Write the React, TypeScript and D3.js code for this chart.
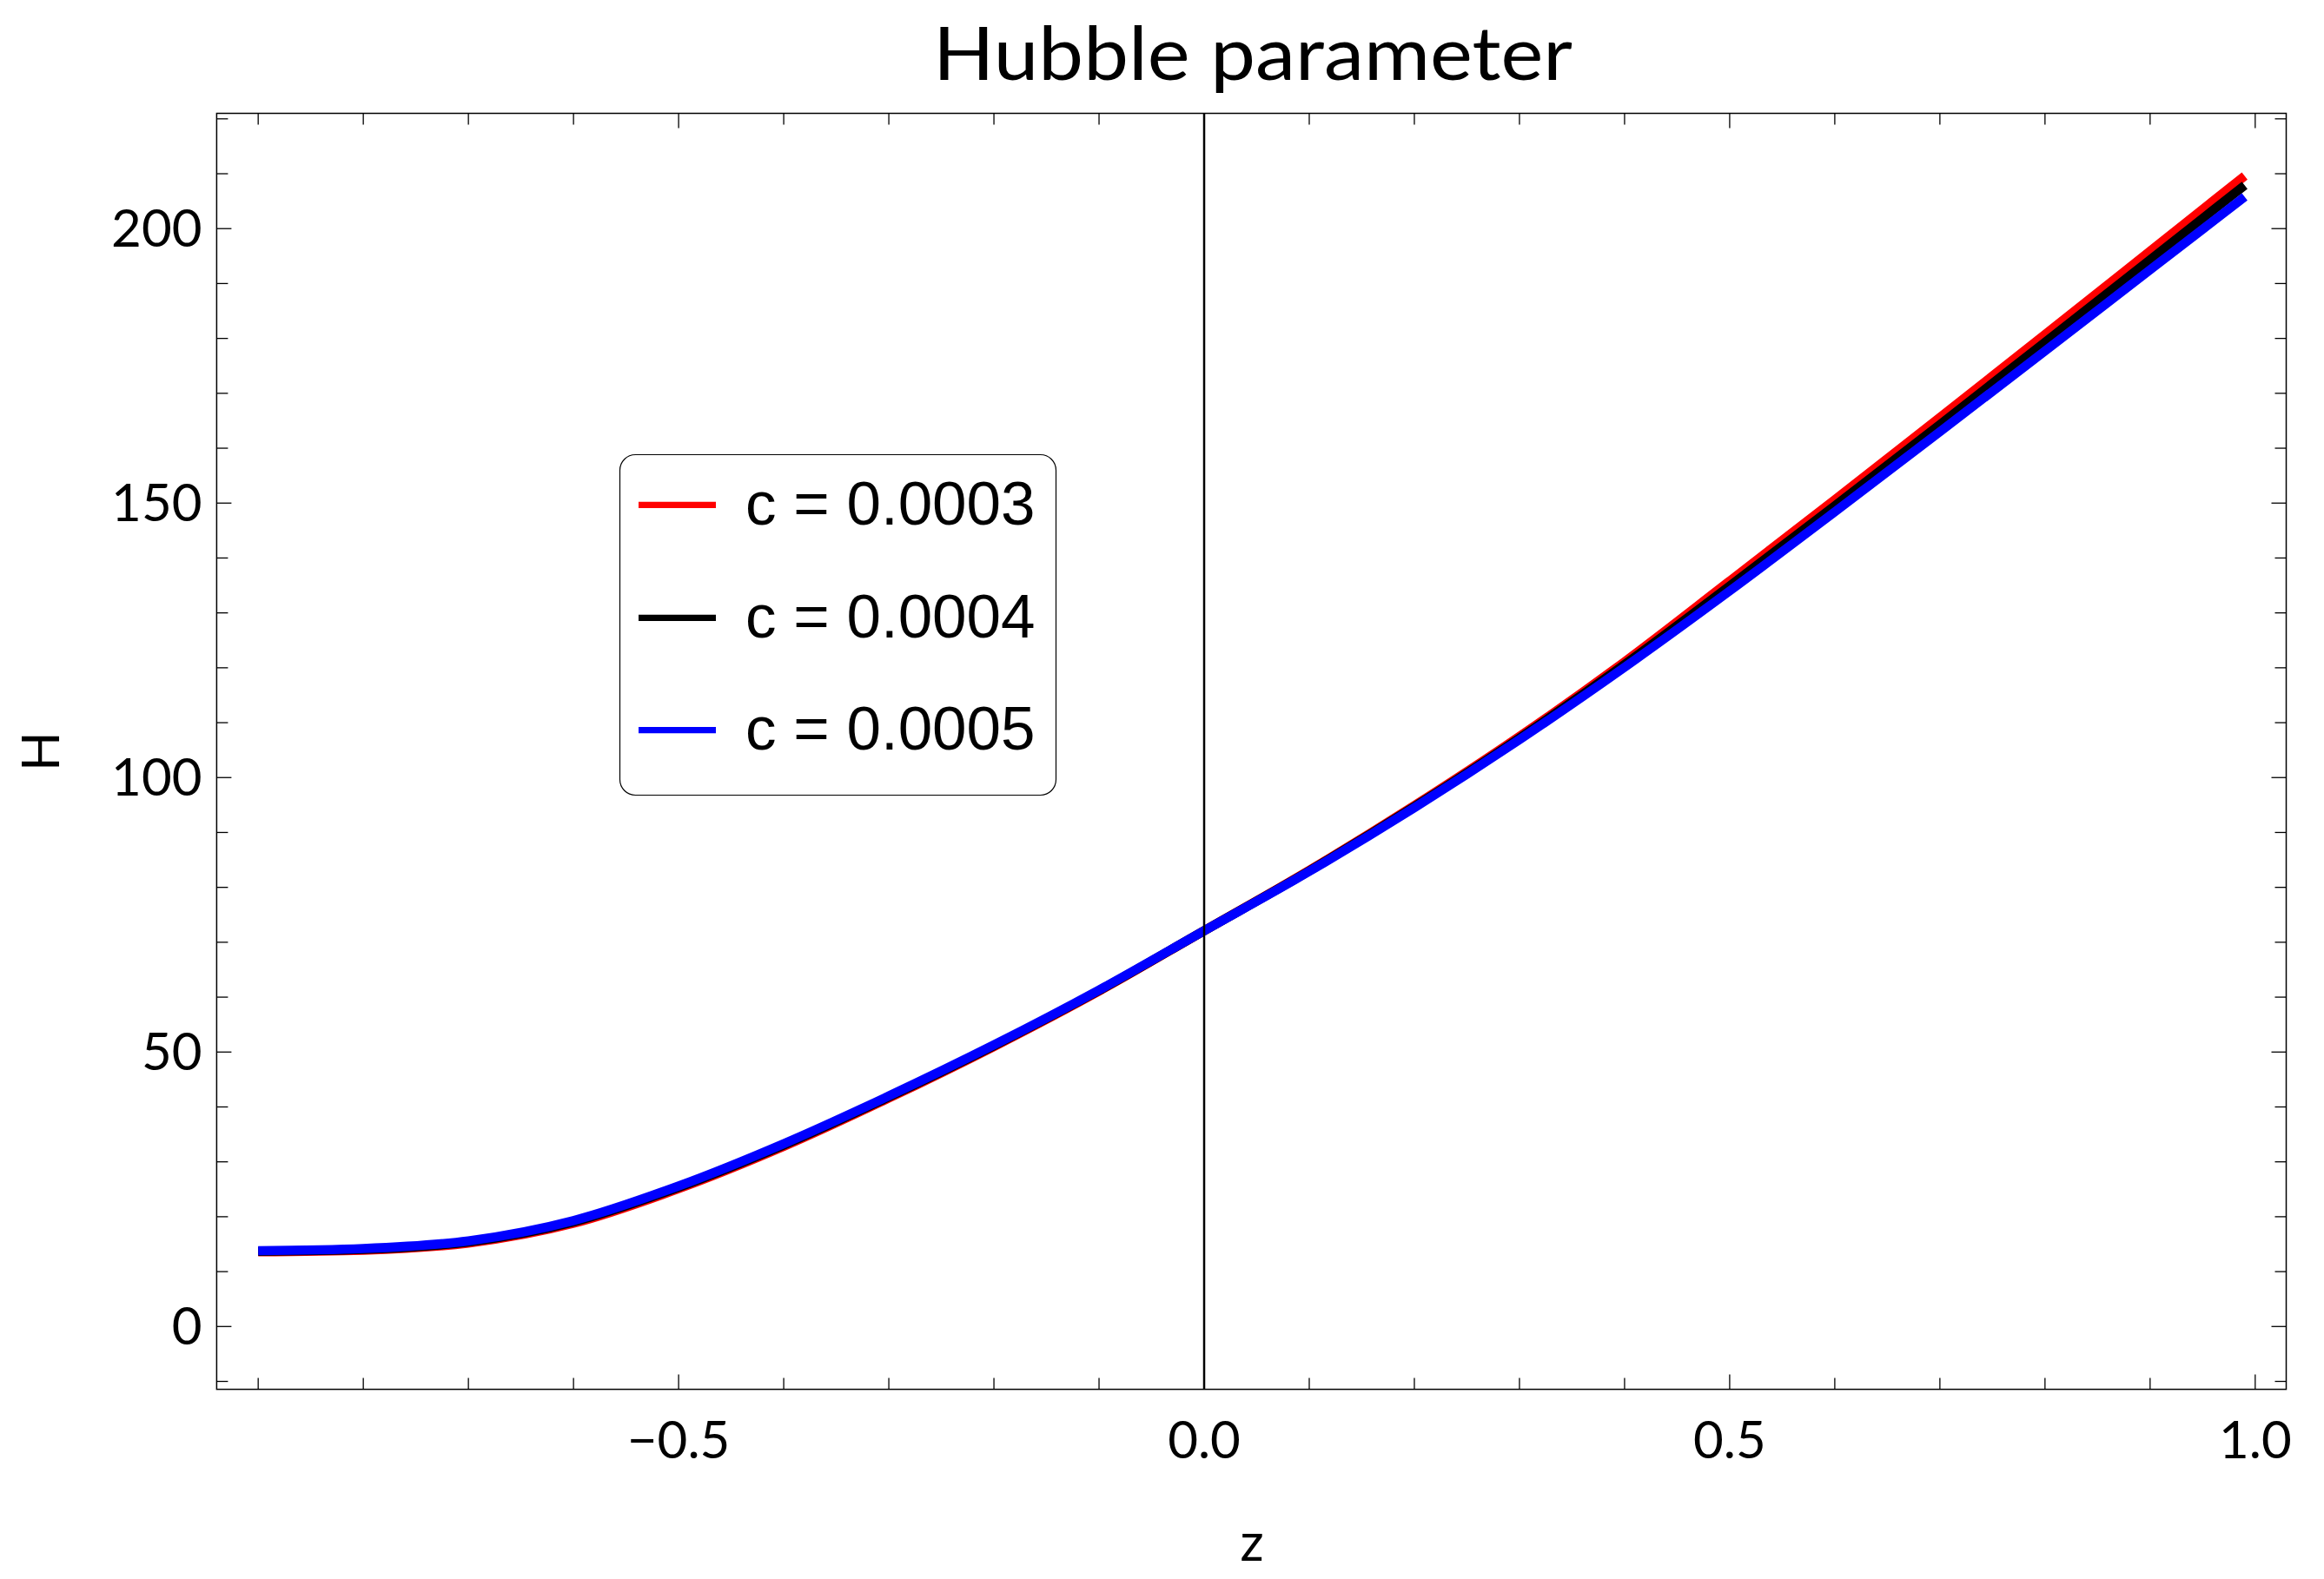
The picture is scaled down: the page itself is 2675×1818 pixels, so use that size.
import React from "react";
import * as d3 from "d3";

// ---- data ----
const zValues = [-0.9, -0.8, -0.7, -0.6, -0.5, -0.4, -0.3, -0.2, -0.1, 0, 0.1, 0.2, 0.3, 0.4, 0.5, 0.6, 0.7, 0.8, 0.9, 0.99];
const hRed = [13.6, 13.9, 15.2, 18.8, 25.1, 32.8, 41.6, 51.0, 61.1, 72.1, 83.1, 94.9, 107.5, 121.1, 135.8, 150.6, 165.6, 180.7, 195.9, 209.6];
const hBlack = [13.7, 14.05, 15.4, 19.05, 25.35, 33.05, 41.8, 51.15, 61.2, 72.1, 83.0, 94.7, 107.2, 120.6, 134.9, 149.5, 164.3, 179.3, 194.3, 207.9];
const hBlue = [13.8, 14.2, 15.6, 19.3, 25.6, 33.3, 42.0, 51.3, 61.3, 72.1, 82.9, 94.5, 106.9, 120.1, 134.0, 148.4, 163.0, 177.7, 192.5, 205.8];

const seriesNames = ["c = 0.0003", "c = 0.0004", "c = 0.0005"];
const seriesColors = ["#ff0000", "#000000", "#0000ff"];
const seriesValues = [hRed, hBlack, hBlue];

const xMajorTicks = [-0.5, 0, 0.5, 1.0];
const xTickLabels = ["\u22120.5", "0.0", "0.5", "1.0"];
const yMajorTicks = [0, 50, 100, 150, 200];
const yTickLabels = ["0", "50", "100", "150", "200"];

const titleText = "Hubble parameter";
const xLabel = "z";
const yLabel = "H";

// ---- layout ----
const W = 2675;
const H = 1818;
const left = 249.4;
const right = 2631.5;
const top = 130.5;
const bottom = 1599.6;

export default function App() {
  const x = d3.scaleLinear().domain([-0.9395, 1.0295]).range([left, right]);
  const y = d3.scaleLinear().domain([-11.44, 221.0]).range([bottom, top]);

  const xMinor = d3.range(-9, 11).map((i) => i / 10).filter((v) => !xMajorTicks.some((m) => Math.abs(m - v) < 1e-9));
  const yMinor = d3.range(-1, 23).map((i) => i * 10).filter((v) => !yMajorTicks.includes(v));

  const line = d3
    .line<[number, number]>()
    .x((d) => x(d[0]))
    .y((d) => y(d[1]))
    .curve(d3.curveMonotoneX);

  const tickFont = "Lato, 'Open Sans', sans-serif";
  const majLen = 17;
  const minLen = 13;
  const tickStroke = 1.3;

  const legendX = 713.5;
  const legendY = 523.5;
  const legendW = 502;
  const legendH = 392;
  const legendRowY = [581.3, 711.3, 840.7];

  return (
    <svg
      width={W}
      height={H}
      viewBox={`0 0 ${W} ${H}`}
      style={{ position: "absolute", left: 0, top: 0, background: "#fff" }}
    >
      <rect x={0} y={0} width={W} height={H} fill="#fff" />

      {/* title */}
      <text
        x={1074}
        y={91.7}
        fontFamily={tickFont}
        fontSize={86}
        textLength={736}
        lengthAdjust="spacingAndGlyphs"
        fill="#000"
      >
        {titleText}
      </text>

      {/* curves */}
      {seriesValues.map((vals, si) => (
        <path
          key={si}
          d={line(zValues.map((z, i) => [z, vals[i]] as [number, number])) || ""}
          fill="none"
          stroke={seriesColors[si]}
          strokeWidth={10.5}
          strokeLinecap="butt"
          strokeLinejoin="round"
        />
      ))}

      {/* vertical line at z = 0 */}
      <line x1={x(0)} x2={x(0)} y1={top} y2={bottom} stroke="#000" strokeWidth={2.5} />

      {/* frame */}
      <rect x={left} y={top} width={right - left} height={bottom - top} fill="none" stroke="#000" strokeWidth={1.5} />

      {/* x ticks (bottom + top) */}
      {xMajorTicks.map((v, i) => (
        <g key={"xm" + i}>
          <line x1={x(v)} x2={x(v)} y1={bottom} y2={bottom - majLen} stroke="#000" strokeWidth={tickStroke} />
          <line x1={x(v)} x2={x(v)} y1={top} y2={top + majLen} stroke="#000" strokeWidth={tickStroke} />
          <text x={x(v)} y={1679.3} fontFamily={tickFont} fontSize={60} textAnchor="middle" fill="#000">
            {xTickLabels[i]}
          </text>
        </g>
      ))}
      {xMinor.map((v, i) => (
        <g key={"xn" + i}>
          <line x1={x(v)} x2={x(v)} y1={bottom} y2={bottom - minLen} stroke="#000" strokeWidth={tickStroke} />
          <line x1={x(v)} x2={x(v)} y1={top} y2={top + minLen} stroke="#000" strokeWidth={tickStroke} />
        </g>
      ))}

      {/* y ticks (left + right) */}
      {yMajorTicks.map((v, i) => (
        <g key={"ym" + i}>
          <line x1={left} x2={left + majLen} y1={y(v)} y2={y(v)} stroke="#000" strokeWidth={tickStroke} />
          <line x1={right} x2={right - majLen} y1={y(v)} y2={y(v)} stroke="#000" strokeWidth={tickStroke} />
          <text x={232.5} y={y(v) + 21} fontFamily={tickFont} fontSize={60} textAnchor="end" fill="#000">
            {yTickLabels[i]}
          </text>
        </g>
      ))}
      {yMinor.map((v, i) => (
        <g key={"yn" + i}>
          <line x1={left} x2={left + minLen} y1={y(v)} y2={y(v)} stroke="#000" strokeWidth={tickStroke} />
          <line x1={right} x2={right - minLen} y1={y(v)} y2={y(v)} stroke="#000" strokeWidth={tickStroke} />
        </g>
      ))}

      {/* axis labels */}
      <text x={1441} y={1797.3} fontFamily={tickFont} fontSize={60} textAnchor="middle" fill="#000">
        {xLabel}
      </text>
      <text
        transform={`translate(68.3, ${(top + bottom) / 2}) rotate(-90)`}
        fontFamily={tickFont}
        fontSize={60}
        textAnchor="middle"
        fill="#000"
      >
        {yLabel}
      </text>

      {/* legend */}
      <rect x={legendX} y={legendY} width={legendW} height={legendH} rx={18} ry={18} fill="#fff" stroke="#000" strokeWidth={1.2} />
      {seriesNames.map((name, i) => (
        <g key={"lg" + i}>
          <line x1={735} x2={824} y1={legendRowY[i]} y2={legendRowY[i]} stroke={seriesColors[i]} strokeWidth={7.3} />
          <text
            x={858}
            y={legendRowY[i] + 22.5}
            fontFamily="'Liberation Sans', Arial, sans-serif"
            fontSize={71}
            fill="#000"
          >
            {name}
          </text>
        </g>
      ))}
    </svg>
  );
}
